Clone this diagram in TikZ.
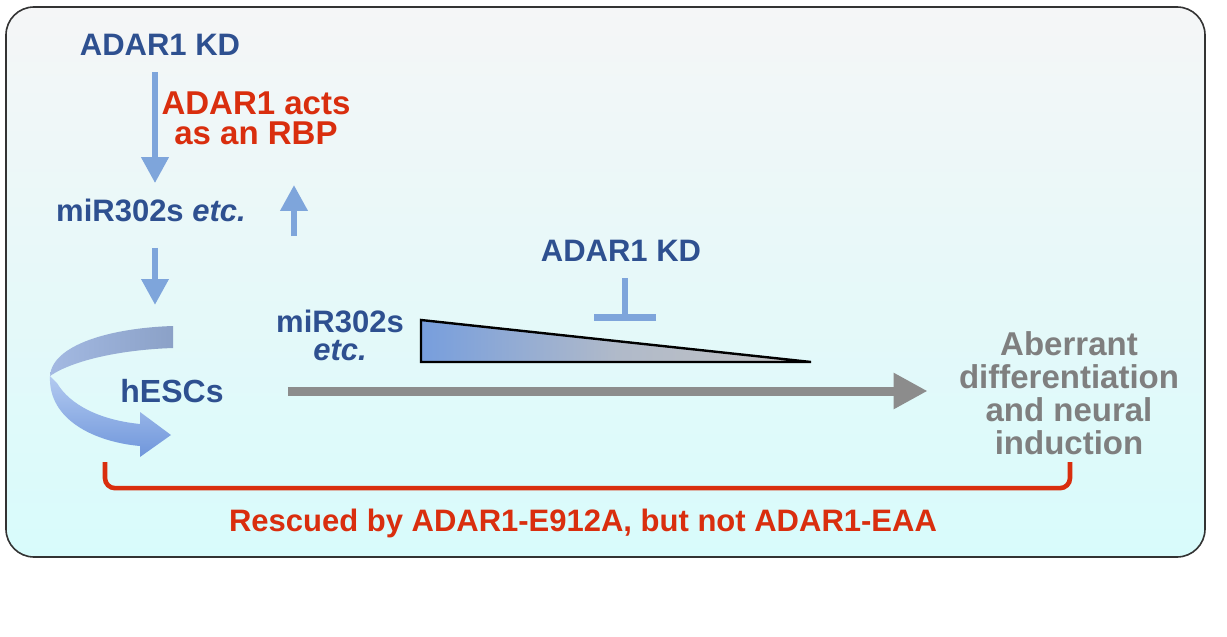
\documentclass[tikz,border=0pt]{standalone}
\usepackage{fontspec}
\setmainfont{Liberation Sans}
\usetikzlibrary{arrows.meta, calc}

\definecolor{kdblue}{HTML}{2E5090}
\definecolor{rbpred}{HTML}{D92E0E}
\definecolor{fategray}{HTML}{7F7F7F}
\definecolor{arrowblue}{HTML}{7EA5DB}
\definecolor{arrowgray}{HTML}{8C8C8C}
\definecolor{frametop}{HTML}{F5F6F7}
\definecolor{framebot}{HTML}{D8FBFB}
\definecolor{triblue}{HTML}{779EDD}
\definecolor{trigray}{HTML}{C3C3C3}
\definecolor{ribbonlight}{HTML}{B3CAF0}
\definecolor{ribbonmid}{HTML}{A3B9E2}
\definecolor{ribbonblue}{HTML}{6F96DB}
\definecolor{ribbongray}{HTML}{8BA1C7}

\begin{document}
\begin{tikzpicture}[x=0.5pt,y=-0.5pt,
  lbl/.style={inner sep=0pt, font=\bfseries\fontsize{15.5}{17}\selectfont},
  bluearrow/.style={draw=arrowblue, line width=3.3pt, -{Triangle[width=13pt,length=13pt]}},
  grayarrow/.style={draw=arrowgray, line width=4.5pt, -{Triangle[width=17pt,length=17pt]}},
  inhibit/.style={draw=arrowblue, line width=3.3pt, -{Bar[width=31pt]}},
  bracket/.style={draw=rbpred, line width=2.3pt, rounded corners=5pt}]
% Page and frame
\fill[white] (0,0) rectangle (1227,637);
\useasboundingbox (0,0) rectangle (1227,637);
\shade[top color=frametop, bottom color=framebot, rounded corners=14pt] (6,7) rectangle (1205,557);
\draw[black!80, line width=0.8pt, rounded corners=14pt] (6,7) rectangle (1205,557);
% Labels
\node[lbl, text=kdblue] (kdtop) at (160,45) {ADAR1 KD};
\node[lbl, text=rbpred, align=center, font=\bfseries\fontsize{16.5}{15}\selectfont] (rbp) at (256,118) {ADAR1 acts\\as an RBP};
\node[lbl, text=kdblue] (mirtop) at (151,210) {miR302s \textit{etc.}};
\node[lbl, text=kdblue, font=\bfseries\fontsize{16}{17}\selectfont] (hesc) at (172,391) {hESCs};
\node[lbl, text=kdblue, align=center, font=\bfseries\fontsize{15.5}{14}\selectfont] (mirmid) at (340,335) {miR302s\\\textit{etc.}};
\node[lbl, text=kdblue] (kdmid) at (621,251) {ADAR1 KD};
\node[lbl, text=fategray, align=center, font=\bfseries\fontsize{16.5}{16.5}\selectfont] (aberr) at (1069,393) {Aberrant\\differentiation\\and neural\\induction};
\node[lbl, text=rbpred] (rescue) at (583,523) {Rescued by ADAR1-E912A, but not ADAR1-EAA};
% Helper coordinates
\coordinate (downx) at (155,0);
\coordinate (upbase) at (294,236);
\coordinate (looptop) at (155,326);
\coordinate (tbar) at (625,321);
\coordinate (brl) at (105,462);
\coordinate (brr) at (1070,462);
% Vertical arrows
\draw[bluearrow, shorten <=8pt, shorten >=7.5pt] (kdtop.south -| downx) -- (mirtop.north -| downx);
\draw[bluearrow, shorten <=13pt, shorten >=10.5pt] (mirtop.south -| downx) -- (looptop);
\draw[bluearrow, shorten >=20pt] (upbase) -- (rbp.south -| upbase);
% Self-renewal ribbon
\shade[left color=ribbonmid, right color=ribbongray] (173,326) .. controls (110,328) and (52,345) .. (50,376) .. controls (70,362) and (115,350) .. (173,348) -- cycle;
\shade[top color=ribbonlight, bottom color=ribbonblue] (50,376) .. controls (48,420) and (95,442) .. (140,446) -- (140,457) -- (171,435) -- (140,412) -- (140,424) .. controls (100,420) and (70,405) .. (57,383) -- cycle;
% Decreasing miR302s
\shade[left color=triblue, right color=trigray, middle color=trigray!75!triblue] (421,320) -- (421,362) -- (811,362) -- cycle;
\draw[black, line width=1.2pt, line join=miter] (421,320) -- (421,362) -- (811,362) -- cycle;
% Inhibition by knockdown
\draw[inhibit, shorten <=8pt] (kdmid.south -| tbar) -- (tbar);
% Differentiation arrow
\draw[grayarrow, shorten <=32pt, shorten >=15.5pt] (hesc.east) -- (hesc.east -| aberr.west);
% Rescue bracket
\draw[bracket] (brl) -- ([yshift=10pt]rescue.north -| brl) -- ([yshift=10pt]rescue.north -| brr) -- (brr);
\end{tikzpicture}
\end{document}
